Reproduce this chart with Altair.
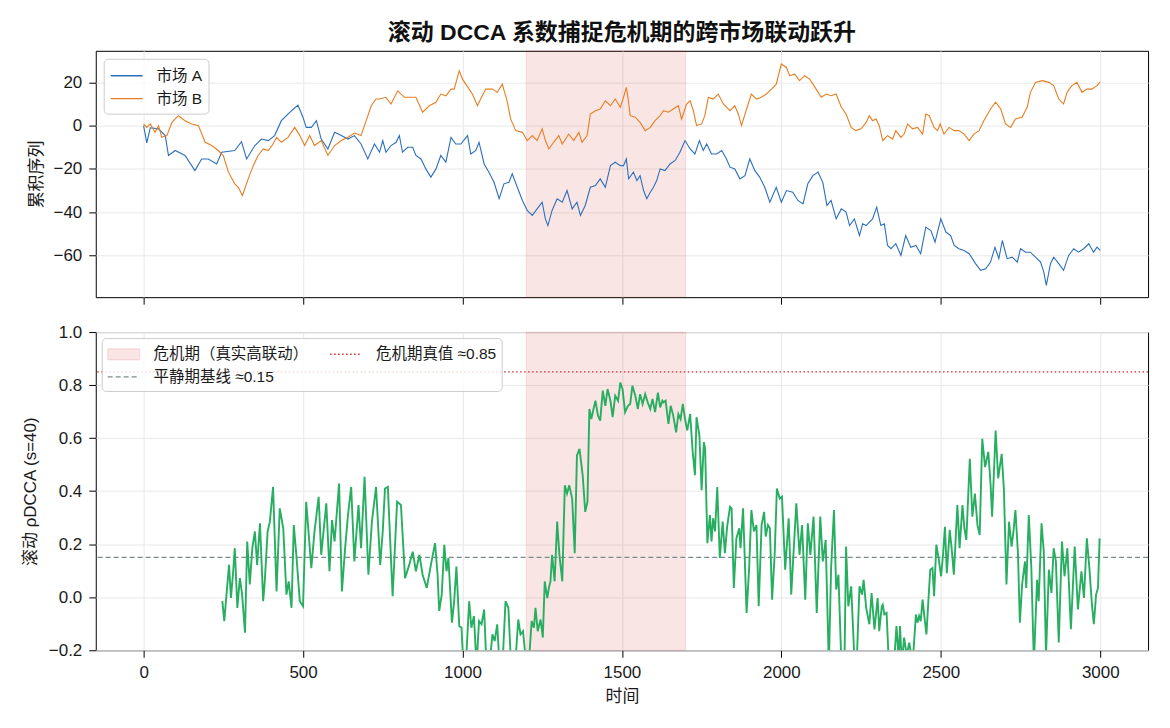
import altair as alt
import pandas as pd

# ---- cumulative series, market A ----
A_T = [0, 10, 21, 47, 68, 78, 99, 130, 161, 182, 203, 229, 245, 286, 307, 323, 349, 370, 391, 411,
       432, 464, 484, 500, 510, 526, 542, 557, 578, 599, 620, 641, 661, 682, 703, 724,
       740, 750, 760, 776, 792, 802, 812, 828, 844, 854, 870, 885, 901, 917, 932, 948, 964, 979, 995,
       1016, 1026, 1042, 1052, 1068, 1083, 1099, 1115, 1130, 1146, 1156, 1172, 1188, 1203, 1219,
       1234, 1250, 1260, 1268, 1281, 1297, 1313, 1328, 1344, 1359, 1370, 1385, 1401, 1417, 1432,
       1448, 1464, 1479, 1495,
       1505, 1514, 1521, 1536, 1547, 1557, 1568, 1578, 1589, 1599, 1609, 1620, 1635, 1651, 1667,
       1682, 1698, 1714, 1729, 1743, 1755, 1766, 1781, 1797, 1813, 1828, 1839, 1854, 1870, 1886,
       1901, 1917, 1932, 1948, 1964, 1984, 2000, 2016, 2036, 2052, 2068, 2083, 2099, 2115, 2130,
       2143, 2156, 2172, 2188, 2203, 2214, 2229, 2245,
       2255, 2266, 2276, 2286, 2299, 2312, 2323, 2333, 2344, 2359, 2375, 2390, 2406, 2422, 2437,
       2453, 2469, 2482, 2500, 2516, 2531, 2542, 2557, 2573, 2589, 2609, 2625, 2641, 2656, 2670,
       2682, 2693, 2708, 2724, 2740, 2750, 2766, 2781, 2797, 2813, 2823, 2831, 2844, 2854, 2870,
       2885, 2901, 2917, 2932, 2948, 2964, 2979, 2990, 3000]
A_V = [0, -8, -1, -1.5, -4.6, -13.8, -11.5, -13.8, -20.8, -15.4, -15.4, -17.7, -12.3, -11.5, -7.4,
       -15.4, -9.2, -6.2, -6.9, -4.6, 2.3, 6.9, 9.5, 3.8, -0.8, -0.8, 2.3, -6.2, -10.8, -3.1, -4.6,
       -6.2, -4.6, -8.5, -15.4, -8.5,
       -12.3, -6.9, -12.3, -9.2, -7.7, -4.6, -12.3, -10.0, -10.0, -13.8, -15.4, -20.0, -23.8, -20.0,
       -13.8, -16.9, -5.4, -8.5, -8.5, -4.6, -13.1, -11.5, -7.7, -17.7, -21.5, -26.2, -33.8, -26.9,
       -26.2, -22.3, -28.5, -34.6, -39.2, -41.5, -38.5, -35.4, -43.1, -46.2, -39.2, -33.8, -35.4,
       -30.0, -38.5, -35.4, -41.5, -36.9, -28.5, -27.7, -24.6, -28.5, -18.5, -16.9, -18.5,
       -18.5, -15.4, -24.6, -21.5, -25.4, -23.1, -30.0, -33.8, -30.8, -28.5, -25.4, -20.0, -20.8,
       -17.7, -16.1, -12.3, -6.9, -10.8, -13.1, -6.9, -11.5, -8.5, -13.1, -13.1, -11.5, -15.4,
       -19.2, -20.0, -24.6, -23.1, -15.4, -20.8, -23.8, -28.5, -35.4, -28.5, -35.4, -30.0, -30.8,
       -34.6, -36.2, -26.9, -23.1, -21.5, -26.2, -36.9, -34.6, -43.1, -38.5, -40.0, -46.2, -43.1,
       -50.8,
       -45.4, -46.2, -44.6, -43.1, -37.7, -46.2, -45.4, -55.4, -56.9, -54.6, -60.0, -50.8, -56.2,
       -55.4, -59.2, -46.9, -48.5, -53.8, -43.1, -49.2, -50.8, -55.4, -56.9, -57.7, -59.2, -63.8,
       -66.9, -66.2, -63.1, -56.2, -61.5, -53.1, -61.5, -60.8, -63.1, -56.9, -58.5, -58.5, -60.8,
       -63.1, -67.7, -73.8, -63.8, -60.8, -63.8, -66.9, -60.0, -56.9, -58.5, -56.9, -54.6, -58.5,
       -56.2, -57.7]

# ---- cumulative series, market B ----
B_T = [0, 10, 21, 36, 47, 57, 73, 89, 109, 130, 151, 172, 193, 214, 234, 250, 266, 286, 297, 310,
       328, 344, 359, 375, 391, 406, 417, 432, 453, 474, 490, 505, 521, 536, 557, 578, 599, 620,
       641, 661, 682, 698, 714, 729,
       740, 760, 776, 797, 818, 839, 854, 875, 896, 917, 932, 948, 964, 974, 990, 1000, 1021, 1031,
       1047, 1057, 1073, 1094, 1109, 1125, 1141, 1151, 1167, 1188, 1203, 1219, 1234, 1250, 1260,
       1271, 1286, 1302, 1313, 1333, 1349, 1365, 1375, 1391, 1401, 1417, 1432, 1448, 1464, 1479,
       1495,
       1505, 1514, 1521, 1526, 1542, 1557, 1573, 1589, 1604, 1620, 1630, 1646, 1661, 1677, 1687,
       1703, 1714, 1724, 1734, 1750, 1760, 1771, 1786, 1802, 1818, 1839, 1854, 1865, 1875, 1891,
       1906, 1922, 1937, 1953, 1969, 1984, 2000, 2016, 2026, 2042, 2057, 2073, 2089, 2109, 2125,
       2141, 2156, 2172, 2188, 2203, 2219, 2234, 2250,
       2266, 2276, 2286, 2297, 2307, 2318, 2333, 2349, 2359, 2375, 2385, 2396, 2411, 2427, 2443,
       2453, 2464, 2479, 2490, 2498, 2510, 2526, 2542, 2557, 2573, 2589, 2604, 2620, 2635, 2656,
       2672, 2688, 2703, 2719, 2734, 2755, 2771, 2781, 2797, 2818, 2839, 2854, 2870, 2885, 2896,
       2911, 2927, 2943, 2958, 2974, 2990, 3000]
B_V = [0.8, -0.8, 0.8, -3.1, 0, -5.4, -4.6, 1.5, 4.6, 2.3, 0.8, 0, -7.7, -9.2, -11.5, -13.8, -21.5,
       -26.9, -28.5, -32.3, -24.6, -18.5, -13.8, -10.8, -11.5, -8.5, -5.4, -7.7, -5.4, -0.8, -4.6,
       -9.2, -4.6, -9.2, -6.9, -13.8, -9.2, -6.9, -5.4, -3.4, -4.6, 2.3, 9.2, 12.3,
       12.3, 13.1, 10.0, 16.1, 13.1, 13.1, 13.1, 6.2, 9.2, 10.8, 14.6, 13.8, 16.9, 16.9, 25.4, 21.5,
       16.9, 14.6, 9.2, 12.3, 16.9, 16.9, 15.4, 19.2, 10.8, 3.1, -2.3, -3.1, -6.9, -4.6, -6.9, -1.5,
       -6.9, -10.8, -7.7, -4.6, -8.5, -3.9, -6.9, -3.1, -7.7, -4.6, 5.4, 6.9, 7.7, 11.5, 9.2, 12.3,
       8.5,
       13.1, 17.7, 10.8, 4.6, 3.9, 1.5, -2.3, -0.8, 2.3, 4.6, 6.9, 6.2, 7.7, 9.2, 3.1, 10.0, 11.5,
       6.9, 0, 0.8, 4.6, 13.1, 12.3, 14.6, 10.0, 6.9, 9.2, 5.4, 0, 7.7, 14.6, 12.3, 13.1, 14.6, 16.9,
       19.2, 28.5, 26.9, 23.1, 23.8, 20.8, 23.1, 21.5, 16.9, 13.1, 14.6, 13.8, 14.6, 8.5, 5.4, -0.8,
       -2.3, -1.5,
       1.5, 4.6, 2.3, 3.1, 0, -6.9, -4.6, -6.2, -2.3, -5.4, -3.9, 0.8, -1.5, -0.8, -3.9, 5.4, 4.6,
       -0.8, -2.3, 0.8, -3.9, -0.8, -2.3, -2.3, -3.9, -6.9, -3.9, -2.3, 2.3, 7.7, 10.8, 7.7, 0.8,
       -0.8, 3.1, 3.9, 8.5, 15.4, 20.0, 20.8, 20.0, 18.5, 12.3, 10.0, 15.4, 18.5, 20.0, 15.4, 16.9,
       16.9, 18.5, 20.3]

# ---- rolling DCCA coefficient (window s=40) ----
RHO_T = [247, 253, 260, 268, 274, 281, 286, 294, 302, 309, 318, 325, 333, 341, 349, 356, 365, 375,
         380, 389, 396, 406, 417, 427, 438, 448, 455, 464, 471, 479, 490, 500, 510, 526, 536, 549,
         557, 573, 583, 591, 599, 613, 622, 632, 641, 651, 661, 674, 682, 693, 705, 716, 729, 742,
         750, 757, 766, 781, 795, 807, 820, 833, 844, 854, 865, 875, 888, 901, 914, 922,
         927, 935, 943, 950, 956, 967, 974, 981, 990, 997, 1002, 1010, 1021, 1028, 1036, 1044, 1052,
         1060, 1068, 1075, 1083, 1094, 1101, 1109, 1115, 1125, 1135, 1144, 1151, 1165, 1175, 1182,
         1190, 1198, 1208, 1217, 1224, 1229, 1236, 1245, 1252, 1258, 1266, 1271, 1276, 1281, 1289,
         1297, 1304, 1313, 1321, 1328, 1335, 1344, 1352, 1359, 1367, 1377, 1385, 1392, 1398, 1404,
         1411, 1417, 1425, 1432, 1440, 1448, 1455, 1464, 1471, 1479, 1488, 1495, 1502, 1510, 1519,
         1526, 1533, 1542, 1550, 1557, 1565, 1573, 1581, 1589, 1596, 1604, 1613, 1620, 1627,
         1630, 1637, 1646, 1653, 1661, 1670, 1677, 1684, 1691, 1698, 1705, 1714, 1722, 1729, 1734,
         1743, 1750, 1757, 1761, 1768, 1776, 1781, 1786, 1792, 1799, 1807, 1816, 1823, 1830, 1839,
         1844, 1851, 1859, 1868, 1872, 1880, 1891, 1899, 1906, 1914, 1922, 1929, 1938, 1946, 1951,
         1958, 1964, 1971, 1979, 1986, 1995, 2002, 2012, 2023, 2031, 2039, 2047, 2057, 2065, 2075,
         2083, 2091, 2101, 2111, 2122, 2130, 2139, 2149, 2156, 2165, 2172, 2179, 2188, 2198, 2203,
         2210, 2219, 2229, 2236, 2245, 2253, 2258, 2266, 2276, 2283, 2292, 2302, 2307, 2315,
         2318, 2323, 2330, 2336, 2344, 2354, 2361, 2368, 2372, 2378, 2385, 2393, 2401, 2409, 2414,
         2422, 2427, 2432, 2437, 2443, 2449, 2455, 2461, 2467, 2474, 2479, 2486, 2493, 2501, 2507,
         2513, 2519, 2528, 2534, 2541, 2552, 2559, 2568, 2574, 2580, 2591, 2599, 2607, 2615, 2622,
         2630, 2639, 2649, 2656, 2661, 2672, 2680, 2691, 2698, 2706, 2714, 2722, 2728, 2734, 2742,
         2748, 2755, 2764, 2768, 2776, 2784, 2792, 2797, 2802, 2807, 2816, 2823, 2830, 2839, 2847,
         2854, 2861, 2870, 2880, 2888, 2897, 2908, 2920, 2930, 2941, 2949, 2958, 2966, 2974, 2980,
         2987, 2993, 2998]
RHO_V = [-0.015, -0.09, 0.01, 0.122, -0.003, 0.098, 0.185, -0.04, 0.072, 0.01, -0.134, 0.21, 0.048,
         0.185, 0.248, 0.122, 0.279, -0.015, 0.06, 0.248, 0.285, 0.416, 0.022, 0.335, 0.26, 0.01,
         0.06, -0.04, 0.272, 0.16, -0.015, -0.034, 0.36, 0.11, 0.248, 0.379, 0.16, 0.354, 0.098,
         0.291, 0.21, 0.429, 0.022, 0.185, 0.31, 0.416, 0.135, 0.348, 0.185, 0.454, 0.085, 0.285,
         0.416, 0.122, 0.248, 0.41, 0.416, 0.004, 0.36, 0.348, 0.072, 0.122, 0.172, 0.098, 0.16,
         0.085, 0.035, 0.122, 0.204, 0.085,
         -0.052, 0.01, 0.198, 0.098, 0.148, -0.096, -0.015, 0.116, -0.109, -0.115, -0.24, -0.27,
         -0.015, -0.115, -0.071, -0.26, -0.09, -0.102, -0.046, -0.25, -0.28, -0.14, -0.165, -0.102,
         -0.23, -0.27, -0.015, -0.04, -0.22, -0.26, -0.084, -0.14, -0.128, -0.23, -0.25, -0.09,
         -0.115, -0.04, -0.128, -0.084, -0.152, 0.06, -0.003, 0.035, 0.06, 0.16, 0.06, 0.285, 0.16,
         0.06, 0.422, 0.391, 0.422, 0.372, 0.166, 0.535, 0.56, 0.46, 0.322, 0.36, 0.71, 0.672, 0.71,
         0.741, 0.685, 0.666, 0.779, 0.722, 0.785, 0.741, 0.679, 0.76, 0.741, 0.81, 0.785, 0.698,
         0.722, 0.729, 0.798, 0.76, 0.71, 0.766, 0.729, 0.766, 0.735, 0.71, 0.748, 0.698, 0.772,
         0.716, 0.741,
         0.735, 0.741, 0.654, 0.722, 0.685, 0.622, 0.691, 0.672, 0.729, 0.672, 0.629, 0.691, 0.548,
         0.46, 0.679, 0.61, 0.404, 0.585, 0.56, 0.204, 0.31, 0.21, 0.298, 0.248, 0.416, 0.148, 0.285,
         0.166, 0.266, 0.341, 0.335, 0.035, 0.222, 0.26, 0.185, 0.335, -0.059, 0.11, 0.329, 0.248,
         0.272, -0.034, 0.272, 0.322, 0.229, 0.272, 0.26, -0.009, 0.16, 0.41, 0.372, 0.379, 0.104,
         0.298, 0.01, 0.185, 0.354, 0.16, 0.272, -0.009, 0.279, 0.16, 0.304, -0.059, 0.304, 0.135,
         0.216, -0.26, 0.11, 0.329, 0.029, 0.085, -0.24, -0.25, 0.191, -0.034, 0.041, -0.23, -0.26,
         0.041, 0.01, 0.066, -0.04, -0.102, 0.016, -0.121, -0.003, -0.128, -0.034,
         -0.028, -0.065, -0.059, -0.22, -0.26, -0.24, -0.109, -0.23, -0.109, -0.25, -0.152, -0.22,
         -0.171, -0.23, -0.21, -0.065, -0.096, -0.071, -0.09, -0.009, -0.078, -0.14, -0.015, 0.104,
         0.11, 0.004, 0.198, 0.148, 0.079, 0.16, 0.266, 0.091, 0.254, 0.185, 0.085, 0.348, 0.185,
         0.348, 0.26, 0.216, 0.522, 0.304, 0.391, 0.272, 0.235, 0.598, 0.491, 0.548, 0.429, 0.304,
         0.629, 0.448, 0.541, 0.404, 0.048, 0.285, 0.191, 0.248, 0.329, 0.166, -0.096, 0.048, 0.135,
         0.035, 0.31, 0.11, -0.25, -0.09, 0.066, -0.015, 0.279, 0.172, -0.22, 0.104, 0.016, 0.185,
         0.135, -0.171, 0.21, 0.079, 0.185, -0.121, 0.191, -0.046, 0.098, -0.003, 0.222, 0.11,
         -0.028, -0.102, 0.01, 0.035, 0.222]

SERIES = ["市场 A", "市场 B"]
SERIES_COLORS = ["#2c6fbb", "#e67e22"]
CRISIS = [1200, 1700]
CRISIS_LEVEL = 0.85
BASE_LEVEL = 0.15
BAND_COLOR = "rgba(214,39,40,0.12)"
TRUE_COLOR = "#d62728"
BASE_COLOR = "#7f8c8d"
TRUE_DASH = [1.5, 2.5]
BASE_DASH = [5, 3]
SWATCH_BOX = "M-1,-0.55H2.2V0.55H-1Z"
SWATCH_LINE = "M-1,0H2.2"
# legend entries (laid out column by column)
REF_NAMES = ["危机期（真实高联动）", "平静期基线 ≈0.15", "危机期真值 ≈0.85"]
REF_STROKES = [BAND_COLOR, BASE_COLOR, TRUE_COLOR]
REF_FILLS = [BAND_COLOR, "transparent", "transparent"]
REF_DASHES = [[1, 0], BASE_DASH, TRUE_DASH]
REF_SHAPES = [SWATCH_BOX, SWATCH_LINE, SWATCH_LINE]
X_TICKS = [0, 500, 1000, 1500, 2000, 2500, 3000]

FONT = "Liberation Sans, Noto Sans CJK SC, sans-serif"
W, H_TOP, H_BOT = 1055, 247, 319
X_DOMAIN = [-150, 3150]
TOP_Y_DOMAIN = [-79.3, 34.6]
BOT_Y_DOMAIN = [-0.2, 1.0]

x_scale = alt.Scale(domain=X_DOMAIN, nice=False, zero=False)

legend_box = dict(
    title=None, orient="top-left", fillColor="rgba(255,255,255,0.8)", strokeColor="#cccccc",
    cornerRadius=4, labelFont=FONT, labelFontSize=15.5, labelColor="#1a1a1a",
    symbolSize=400, symbolStrokeWidth=1.3, labelOffset=25, rowPadding=3,
)

# ---------------- upper panel: cumulative series ----------------
series_df = pd.concat([
    pd.DataFrame({"时间": A_T, "值": A_V, "序列": SERIES[0]}),
    pd.DataFrame({"时间": B_T, "值": B_V, "序列": SERIES[1]}),
], ignore_index=True)
band_df = pd.DataFrame({"起": [CRISIS[0]], "止": [CRISIS[1]]})

top_x_axis = alt.Axis(values=X_TICKS, labels=False, title=None)
top_band = alt.Chart(band_df).mark_rect(fill=BAND_COLOR, stroke=BAND_COLOR, strokeWidth=1).encode(
    x=alt.X("起:Q", scale=x_scale, axis=top_x_axis),
    x2="止:Q",
)
top_lines = alt.Chart(series_df).mark_line(strokeWidth=1.1).encode(
    x=alt.X("时间:Q", scale=x_scale, axis=top_x_axis),
    y=alt.Y("值:Q", scale=alt.Scale(domain=TOP_Y_DOMAIN, nice=False, zero=False),
            axis=alt.Axis(values=[-60, -40, -20, 0, 20], title="累积序列", titlePadding=8)),
    color=alt.Color("序列:N", scale=alt.Scale(domain=SERIES, range=SERIES_COLORS),
                    legend=alt.Legend(symbolType=SWATCH_LINE, offset=8, padding=6, **legend_box)),
)
top = alt.layer(top_band, top_lines).properties(
    width=W, height=H_TOP,
    title=alt.TitleParams("滚动 DCCA 系数捕捉危机期的跨市场联动跃升", anchor="middle", frame="group",
                          font=FONT, fontSize=23, fontWeight="bold", color="#111111", offset=5),
)

# ---------------- lower panel: rolling DCCA ----------------
rho_df = pd.DataFrame({"时间": RHO_T, "ρ": RHO_V})
crisis_level_df = pd.DataFrame({"水平": [CRISIS_LEVEL]})
base_level_df = pd.DataFrame({"水平": [BASE_LEVEL]})
key_df = pd.DataFrame({"图例": pd.Series([], dtype=str)})

y_bot = alt.Scale(domain=BOT_Y_DOMAIN, nice=False, zero=False)
bot_x_axis = alt.Axis(values=X_TICKS, format="d", title="时间", titlePadding=8)

bot_band = alt.Chart(band_df).mark_rect(fill=BAND_COLOR, stroke=BAND_COLOR, strokeWidth=1).encode(
    x=alt.X("起:Q", scale=x_scale, axis=bot_x_axis),
    x2="止:Q",
)
crisis_rule = alt.Chart(crisis_level_df).mark_rule(
    stroke=TRUE_COLOR, strokeDash=TRUE_DASH, strokeWidth=1.3
).encode(y=alt.Y("水平:Q", scale=y_bot))
base_rule = alt.Chart(base_level_df).mark_rule(
    stroke=BASE_COLOR, strokeDash=BASE_DASH, strokeWidth=1.3
).encode(y=alt.Y("水平:Q", scale=y_bot))
rho_line = alt.Chart(rho_df).mark_line(color="#27ae60", strokeWidth=1.9, clip=True).encode(
    x=alt.X("时间:Q", scale=x_scale, axis=bot_x_axis),
    y=alt.Y("ρ:Q", scale=y_bot,
            axis=alt.Axis(values=[-0.2, 0.0, 0.2, 0.4, 0.6, 0.8, 1.0], format=".1f",
                          title="滚动 ρDCCA (s=40)", titlePadding=9)),
)

# legend entries for the band and the two reference levels
key_legend = alt.Legend(columns=2, columnPadding=18, offset=6, padding=5, **legend_box)
ref_key = alt.Chart(key_df).mark_point(filled=True, opacity=1, strokeWidth=1.3).encode(
    fill=alt.Fill("图例:N", scale=alt.Scale(domain=REF_NAMES, range=REF_FILLS), legend=key_legend),
    stroke=alt.Stroke("图例:N", scale=alt.Scale(domain=REF_NAMES, range=REF_STROKES), legend=key_legend),
    strokeDash=alt.StrokeDash("图例:N", scale=alt.Scale(domain=REF_NAMES, range=REF_DASHES),
                              legend=key_legend),
    shape=alt.Shape("图例:N", scale=alt.Scale(domain=REF_NAMES, range=REF_SHAPES), legend=key_legend),
)
bottom = alt.layer(bot_band, crisis_rule, base_rule, rho_line, ref_key).properties(width=W, height=H_BOT)

chart = alt.vconcat(top, bottom, spacing=35, bounds="flush").resolve_scale(
    color="independent", fill="independent", stroke="independent",
    strokeDash="independent", shape="independent",
).resolve_legend(
    color="independent", fill="independent", stroke="independent",
    strokeDash="independent", shape="independent",
).properties(
    padding={"left": 20, "top": 21, "right": 20, "bottom": 20},
).configure_view(
    stroke="black", strokeWidth=1,
).configure_axis(
    domain=False, grid=True, gridColor="#e8e8e8", gridWidth=1,
    tickColor="black", tickSize=7, tickWidth=1, labelPadding=7,
    labelFont=FONT, labelFontSize=17, labelColor="#1a1a1a",
    titleFont=FONT, titleFontSize=17, titleFontWeight="normal", titleColor="#1a1a1a",
)

chart.save("out.html", embed_options={"renderer": "svg", "actions": False})
